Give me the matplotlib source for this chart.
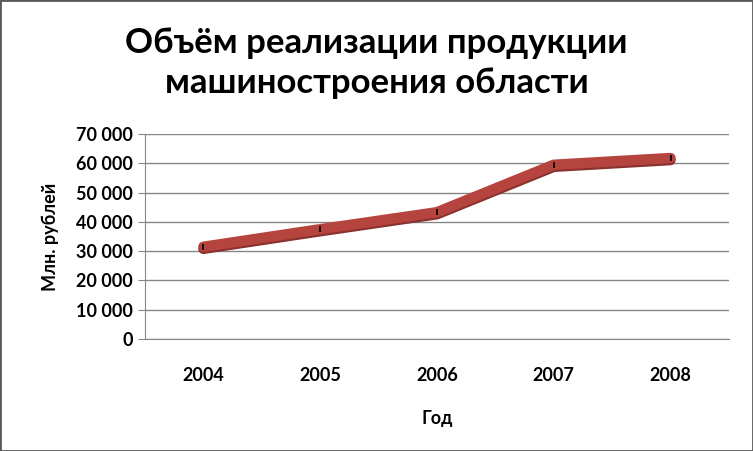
"""Line chart: sales volume of machine-building products"""

import matplotlib
matplotlib.use('Agg')
import matplotlib.pyplot as plt
import matplotlib.patheffects as pe
from matplotlib.patches import Rectangle
from matplotlib.ticker import FuncFormatter

years = ['2004', '2005', '2006', '2007', '2008']
volume = [31500, 37500, 43300, 59500, 61800]
y_ticks = [0, 10000, 20000, 30000, 40000, 50000, 60000, 70000]

plt.rcParams['font.family'] = ['Lato', 'DejaVu Sans']
plt.rcParams['font.weight'] = 'bold'


def fmt_thousands(val, pos):
    """Format like 70 000"""
    return f'{int(val):,}'.replace(',', '\u00a0')


fig = plt.figure(figsize=(7.53, 4.51), dpi=100)
axes = fig.add_axes([0.1926, 0.2483, 0.7754, 0.4546])

xs = list(range(len(years)))
axes.plot(xs, volume, color='#B5443F', linewidth=7.5, solid_capstyle='round',
          solid_joinstyle='round',
          path_effects=[pe.SimpleLineShadow(offset=(0, -1.5), shadow_color='#8A302D', alpha=1.0),
                        pe.Normal()])
axes.plot(xs, volume, linestyle='none', marker='|', markersize=5,
          markeredgewidth=1.2, color='black')

axes.set_xlim(-0.5, len(years) - 0.5)
axes.set_ylim(0, 70000)
axes.set_yticks(y_ticks)
axes.yaxis.set_major_formatter(FuncFormatter(fmt_thousands))
axes.set_xticks(xs)
axes.set_xticklabels(years)

axes.grid(axis='y', color='#868686', linewidth=1)
axes.set_axisbelow(True)
for side in ['top', 'right']:
    axes.spines[side].set_visible(False)
axes.spines['left'].set_color('#868686')
axes.spines['bottom'].set_color('#868686')
axes.tick_params(axis='y', length=5, color='#868686', labelsize=13, pad=4)
axes.tick_params(axis='x', length=0, labelsize=13, pad=20)

axes.set_ylabel('Млн. рублей', fontsize=13, fontweight='bold', labelpad=12)
axes.set_xlabel('Год', fontsize=13, fontweight='bold', labelpad=19)

fig.text(0.5, 0.86, 'Объём реализации продукции\nмашиностроения области',
         ha='center', va='center', fontsize=25, fontweight='bold',
         linespacing=1.3)

fig.patches.append(Rectangle((0, 0), 1, 1, transform=fig.transFigure,
                             fill=False, edgecolor='#5A5A5A', linewidth=2))

fig.savefig('out.png', dpi=100)
